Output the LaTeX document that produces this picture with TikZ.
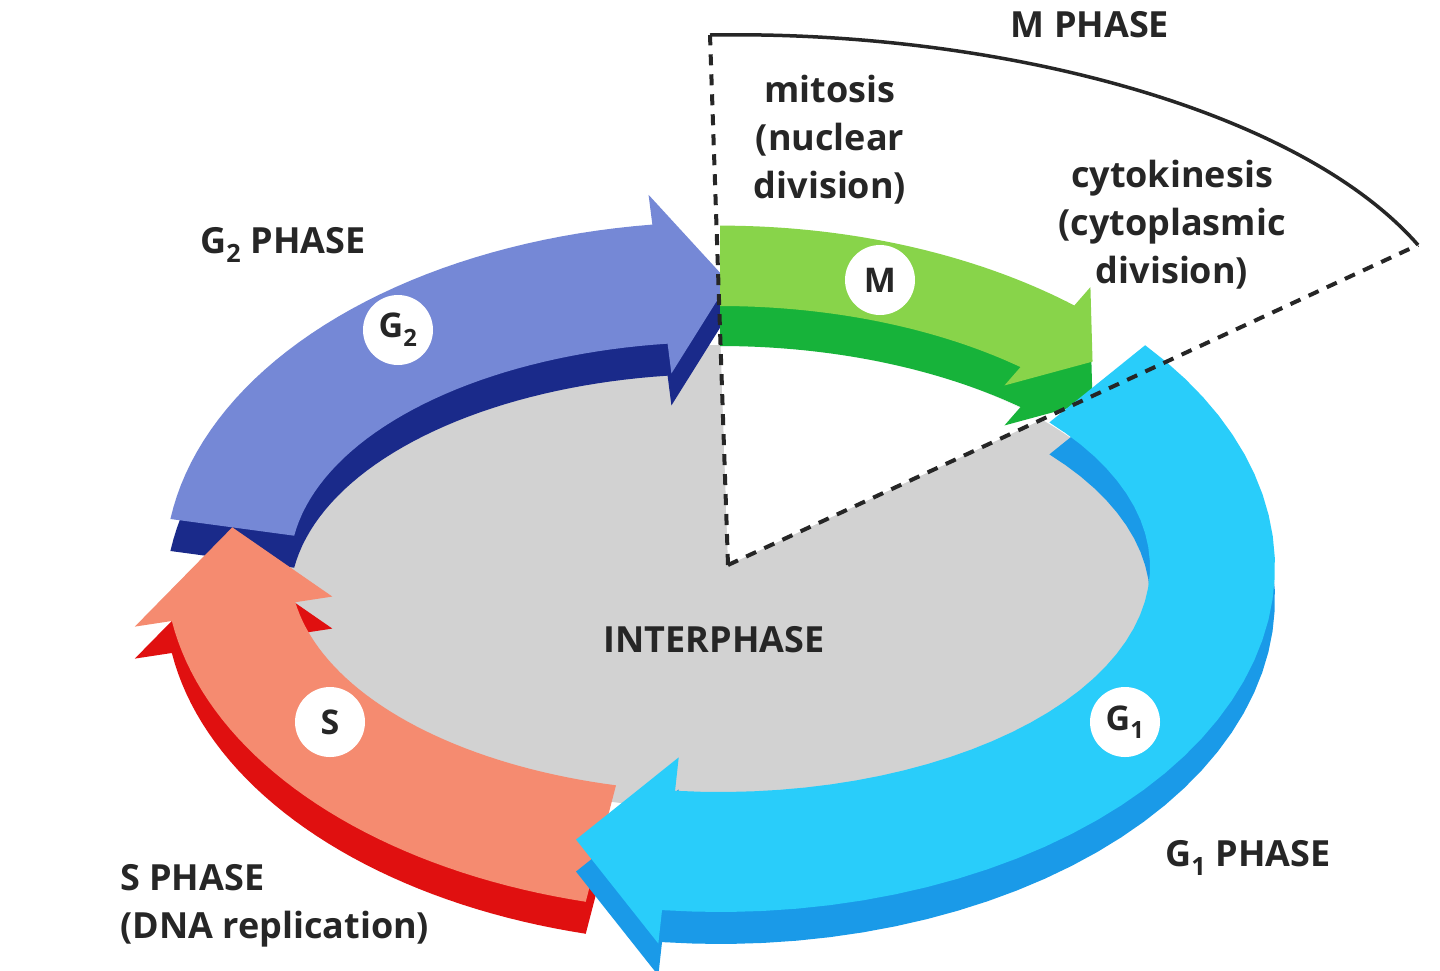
\documentclass[tikz,border=0pt]{standalone}
\usepackage{fontspec}
\setmainfont{Open Sans}
\begin{document}
\begin{tikzpicture}[x=1pt,y=-1pt,
  declare function={ex(\t,\s)=720+(430+125*\s)*cos(\t); ey(\t,\s)=567-(225+120*\s)*sin(\t);},
  lab/.style={font=\fontsize{36}{48}\selectfont\bfseries, text=black!85, align=center, inner sep=0pt},
  badge/.style={circle, fill=white, minimum size=70pt, inner sep=0pt, font=\fontsize{34}{40}\selectfont\bfseries, text=black!85},
  mdash/.style={line width=4pt, dash pattern=on 11pt off 9pt, black!85}]
\useasboundingbox (0,0) rectangle (1440,970);
\fill[white] (0,0) rectangle (1440,970);
% interior
\fill[gray!35] (720,577) ellipse [x radius=438, y radius=232];
\begin{scope}
\clip (720,577) ellipse [x radius=438, y radius=232];
\fill[white] (728,565) -- (714,150) -- (1300,300) -- cycle;
\end{scope}
\newcommand\seg[9]{%
 \path[fill=#9,yshift=-#8pt] plot[domain=#1:#2,samples=40] ({ex(\x,#5)},{ey(\x,#5)})
  -- ({ex(#2,#5+#6)},{ey(#2,#5+#6)}) -- ({ex(#3,(#4+#5)/2)},{ey(#3,(#4+#5)/2)})
  -- ({ex(#2,#4-#6)},{ey(#2,#4-#6)}) -- plot[domain=#2:#1,samples=40] ({ex(\x,#4)},{ey(\x,#4)}) -- cycle;
 \path[fill=#7] plot[domain=#1:#2,samples=40] ({ex(\x,#5)},{ey(\x,#5)})
  -- ({ex(#2,#5+#6)},{ey(#2,#5+#6)}) -- ({ex(#3,(#4+#5)/2)},{ey(#3,(#4+#5)/2)})
  -- ({ex(#2,#4-#6)},{ey(#2,#4-#6)}) -- plot[domain=#2:#1,samples=40] ({ex(\x,#4)},{ey(\x,#4)}) -- cycle;}
\definecolor{gtwo}{HTML}{7588D6}\definecolor{gtwod}{HTML}{1A2A8A}
\definecolor{sf}{HTML}{F58B70}\definecolor{sd}{HTML}{E01010}
\definecolor{mf}{HTML}{88D44A}\definecolor{md}{HTML}{17B33A}
\definecolor{gone}{HTML}{29CDFA}\definecolor{goned}{HTML}{1A9AE8}
\seg{172}{97}{89}{0}{1}{0.25}{gtwo}{32}{gtwod}
\seg{256}{189}{172}{0}{1}{0.3}{sf}{32}{sd}
\seg{90}{50}{43}{0.3}{0.97}{0.2}{mf}{40}{md}
\seg{40}{-96}{-107}{0}{1}{0.28}{gone}{32}{goned}
% M phase bracket
\coordinate (c0) at (728,565);
\coordinate (ctop) at (710,35);
\coordinate (cright) at (1418,245);
\draw[mdash] (c0) -- (ctop);
\draw[mdash] (c0) -- (cright);
\draw[line width=3.5pt, black!85] (ctop) .. controls (1000,30) and (1300,110) .. (cright);
% badges
\node[badge] (bg2) at (398,330) {G\textsubscript{2}};
\node[badge] (bm) at (880,280) {M};
\node[badge] (bs) at (330,722) {S};
\node[badge] (bg1) at (1125,722) {G\textsubscript{1}};
% labels
\node[lab] (mph) at (1090,25) {M PHASE};
\node[lab] (mit) at (830,140) {mitosis\\(nuclear\\division)};
\node[lab] (cyt) at (1172,225) {cytokinesis\\(cytoplasmic\\division)};
\node[lab] (g2p) at (283,245) {G\textsubscript{2} PHASE};
\node[lab] (inter) at (714,640) {INTERPHASE};
\node[lab] (g1p) at (1248,858) {G\textsubscript{1} PHASE};
\node[lab, align=left, anchor=west] (sph) at (120,906) {S PHASE\\(DNA replication)};
\end{tikzpicture}
\end{document}
